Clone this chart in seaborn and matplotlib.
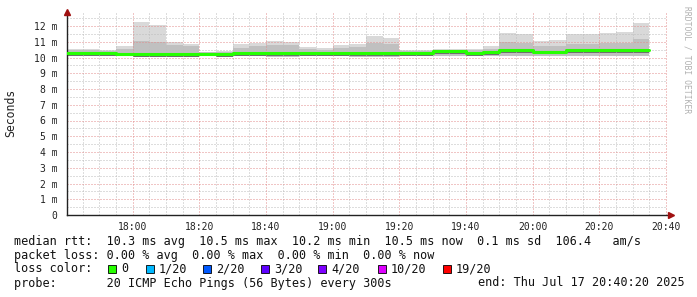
import numpy as np
import pandas as pd
import matplotlib
matplotlib.use("Agg")
import matplotlib.pyplot as plt
from matplotlib.patches import Rectangle
import seaborn as sns

# ---------------- data (values in milliseconds, 5-minute steps from 17:40) ----------------
step_start = ["17:40", "17:45", "17:50", "17:55", "18:00", "18:05", "18:10", "18:15", "18:20",
              "18:25", "18:30", "18:35", "18:40", "18:45", "18:50", "18:55", "19:00", "19:05",
              "19:10", "19:15", "19:20", "19:25", "19:30", "19:35", "19:40", "19:45", "19:50",
              "19:55", "20:00", "20:05", "20:10", "20:15", "20:20", "20:25", "20:30"]
smoke_max = [10.54, 10.54, 10.45, 10.73, 12.27, 12.06, 10.98, 10.86, 10.37, 10.41, 10.86, 10.92,
             11.05, 10.98, 10.69, 10.62, 10.79, 10.86, 11.38, 11.24, 10.48, 10.48, 10.52, 10.52,
             10.54, 10.73, 11.55, 11.49, 11.07, 11.11, 11.49, 11.49, 11.56, 11.62, 12.21]
smoke_upper = [10.45, 10.45, 10.40, 10.55, 11.05, 10.98, 10.80, 10.70, 10.33, 10.35, 10.60, 10.70,
               10.80, 10.80, 10.55, 10.50, 10.60, 10.65, 10.90, 10.85, 10.42, 10.42, 10.45, 10.45,
               10.45, 10.55, 11.00, 10.95, 10.75, 10.75, 10.85, 10.85, 10.90, 10.95, 11.20]
median_rtt = [10.27, 10.27, 10.28, 10.25, 10.20, 10.20, 10.22, 10.22, 10.25, 10.20, 10.28, 10.28,
              10.28, 10.28, 10.28, 10.28, 10.28, 10.28, 10.28, 10.28, 10.27, 10.27, 10.39, 10.39,
              10.26, 10.34, 10.46, 10.46, 10.37, 10.37, 10.47, 10.47, 10.47, 10.47, 10.47]
smoke_min = [10.16, 10.16, 10.16, 10.14, 10.04, 10.04, 10.10, 10.10, 10.08, 10.08, 10.10, 10.10,
             10.02, 10.02, 10.10, 10.10, 10.08, 10.06, 10.06, 10.06, 10.12, 10.12, 10.10, 10.10,
             10.12, 10.12, 10.12, 10.12, 10.12, 10.12, 10.10, 10.10, 10.10, 10.10, 10.10]

y_ticks = list(range(0, 13))
y_tick_labels = ["0"] + [f"{v} m" for v in range(1, 13)]
x_tick_labels = ["18:00", "18:20", "18:40", "19:00", "19:20", "19:40", "20:00", "20:20", "20:40"]

loss_labels = ["0", "1/20", "2/20", "3/20", "4/20", "10/20", "19/20"]
loss_colors = ["#26ff00", "#00b8ff", "#0059ff", "#5e00ff", "#7e00ff", "#dd00ff", "#ff0000"]

legend_rtt = "median rtt:  10.3 ms avg  10.5 ms max  10.2 ms min  10.5 ms now  0.1 ms sd  106.4   am/s"
legend_loss = "packet loss: 0.00 % avg  0.00 % max  0.00 % min  0.00 % now"
legend_probe = "probe:       20 ICMP Echo Pings (56 Bytes) every 300s"
legend_end = "end: Thu Jul 17 20:40:20 2025"


def to_min(s):
    h, m = s.split(":")
    return int(h) * 60 + int(m)


t = [to_min(s) for s in step_start]
t_edges = t + [t[-1] + 5]
df = pd.DataFrame({
    "t": t_edges,
    "max": smoke_max + [smoke_max[-1]],
    "upper": smoke_upper + [smoke_upper[-1]],
    "median": median_rtt + [median_rtt[-1]],
    "min": smoke_min + [smoke_min[-1]],
})
df["dark"] = df["median"] - 0.17

# ---------------- figure ----------------
sns.set_style("white")
plt.rcParams["font.family"] = ["DejaVu Sans Mono", "DejaVu Sans"]

W, H = 697, 297
fig = plt.figure(figsize=(W / 100, H / 100), dpi=100)
fig.patch.set_facecolor("white")


def fx(x):
    return x / W


def fy(y):
    return 1 - y / H


ax = fig.add_axes([fx(67), fy(215), 600 / W, 203 / H])
ax.set_facecolor("white")

x0 = to_min("17:40") + 20 / 60
x1 = to_min("20:40") + 20 / 60
ax.set_xlim(x0, x1)
ax.set_ylim(0, 203 / 15.75)

# smoke
ax.fill_between(df["t"], df["min"], df["max"], step="post", color="#d9d9d9", lw=0, zorder=1)
ax.fill_between(df["t"], df["min"], df["upper"], step="post", color="#c0c0c0", lw=0, zorder=1.1)
ax.fill_between(df["t"], df["dark"], df["median"], step="post", color="#6e6e6e", lw=0, zorder=1.2)

# grid (on top of smoke), dotted
minor_col = "#bdbdbd"
major_col = "#e28c8c"
dots = (0, (1, 2))
for v in np.arange(0.5, 13, 1.0):
    ax.axhline(v, color=minor_col, lw=0.72, ls=dots, zorder=2)
for v in range(1, 13):
    ax.axhline(v, color=major_col, lw=0.72, ls=dots, zorder=2.1)
x_major = [to_min(s) for s in x_tick_labels]
for v in range(to_min("17:45"), to_min("20:45"), 5):
    if v not in x_major and x0 < v < x1:
        ax.axvline(v, color=minor_col, lw=0.72, ls=dots, zorder=2)
for v in x_major:
    ax.axvline(v, color=major_col, lw=0.72, ls=dots, zorder=2.1)

# median line
sns.lineplot(data=df, x="t", y="median", drawstyle="steps-post", color="#26ff00",
             lw=2.2, ax=ax, zorder=3, legend=False)

ax.set_xlabel("")
ax.set_ylabel("")
ax.set_yticks(y_ticks)
ax.set_yticklabels(y_tick_labels)
ax.set_xticks(x_major)
ax.set_xticklabels(x_tick_labels)
ax.tick_params(axis="both", labelsize=7, colors="#222222", length=2, width=0.7,
               direction="out")
ax.tick_params(axis="y", pad=5)
ax.tick_params(axis="x", pad=3)

for s in ["top", "right"]:
    ax.spines[s].set_visible(False)
for s in ["left", "bottom"]:
    ax.spines[s].set_color("#222222")
    ax.spines[s].set_linewidth(1.0)

# arrow heads
ax.plot([0], [1.0], marker="^", color="#a01010", ms=4, transform=ax.transAxes,
        clip_on=False, zorder=5)
ax.plot([1.006], [0], marker=">", color="#a01010", ms=4, transform=ax.transAxes,
        clip_on=False, zorder=5)

# y label
fig.text(fx(11), fy(113), "Seconds", rotation=90, ha="center", va="center",
         fontsize=8.3, color="#222222")
# watermark
fig.text(fx(687), fy(60), "RRDTOOL / TOBI OETIKER", rotation=270, ha="center", va="center",
         fontsize=5.8, color="#b0b0b0")

# legend text
fs = 8.5
fig.text(fx(14), fy(241), legend_rtt, ha="left", va="center", fontsize=fs, color="#111111")
fig.text(fx(14), fy(255), legend_loss, ha="left", va="center", fontsize=fs, color="#111111")
fig.text(fx(14), fy(269), "loss color:", ha="left", va="center", fontsize=fs, color="#111111")
sq_x = [108, 146, 203, 261, 318, 378, 443]
for xs, lab, col in zip(sq_x, loss_labels, loss_colors):
    fig.patches.append(Rectangle((fx(xs), fy(272.5)), 7.5 / W, 7.5 / H, transform=fig.transFigure,
                                 facecolor=col, edgecolor="black", lw=0.6))
    fig.text(fx(xs + 13), fy(269), lab, ha="left", va="center", fontsize=fs, color="#111111")
fig.text(fx(14), fy(283), legend_probe, ha="left", va="center", fontsize=fs, color="#111111")
fig.text(fx(478), fy(283), legend_end, ha="left", va="center", fontsize=fs, color="#111111")

fig.savefig("out.png", dpi=100, facecolor="white")
